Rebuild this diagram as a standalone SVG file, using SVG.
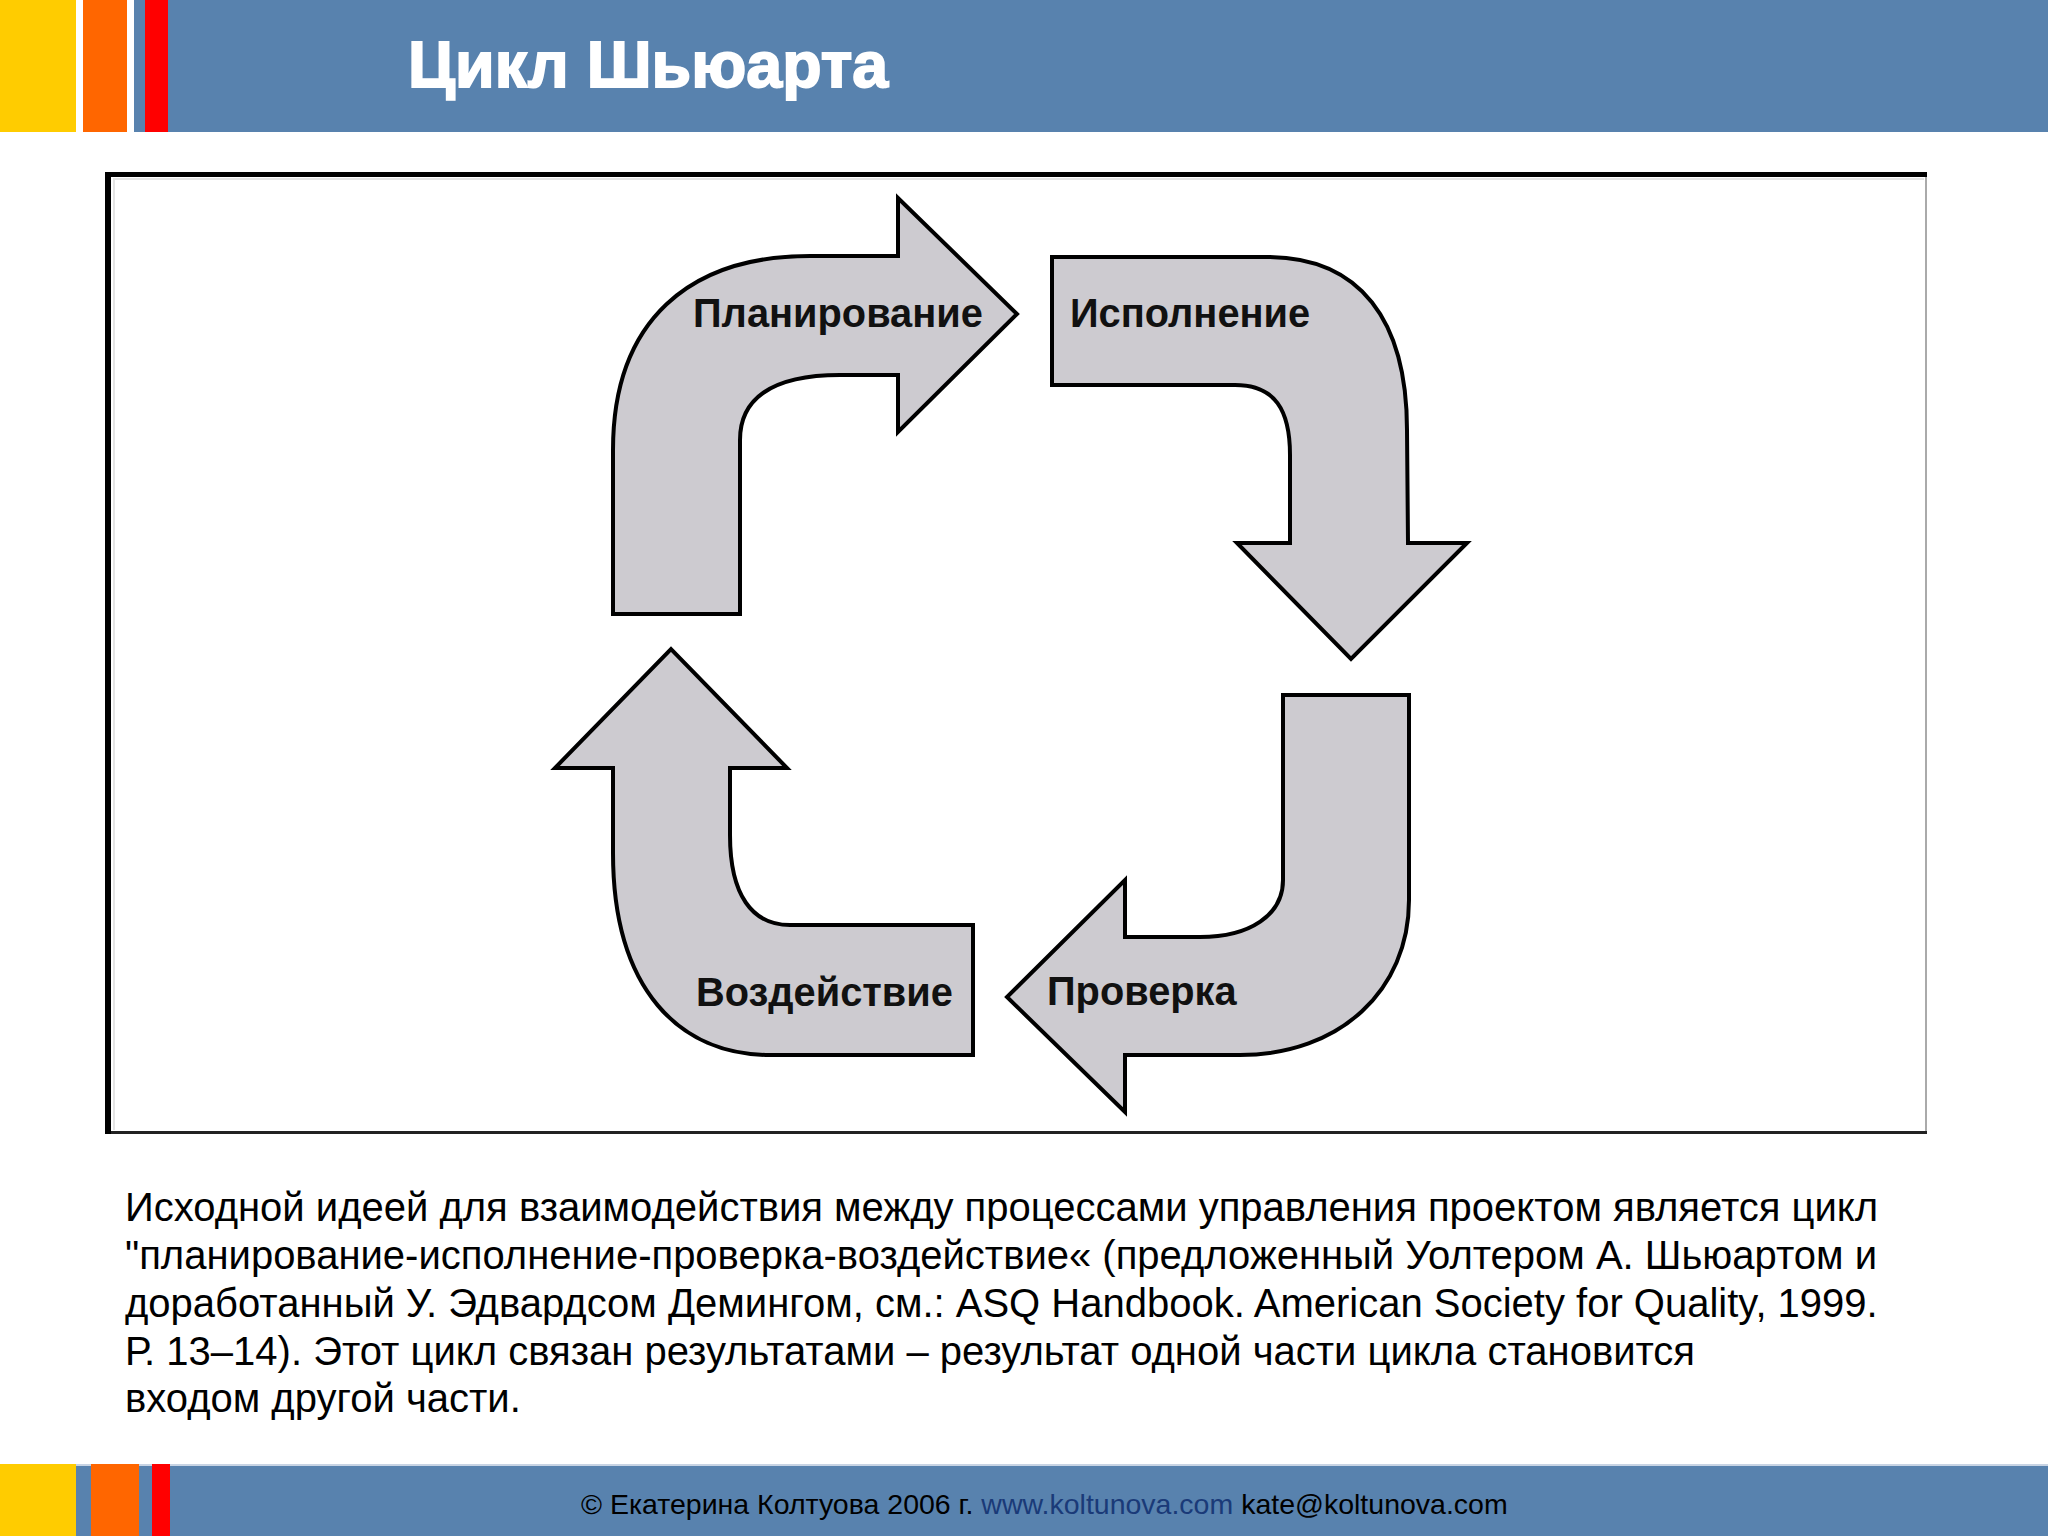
<svg xmlns="http://www.w3.org/2000/svg" width="2048" height="1536" viewBox="0 0 2048 1536">
<defs>
<style>
.bar{fill:#5882AE}
.arrow{fill:#CDCBD0;stroke:#000;stroke-width:4;stroke-linejoin:miter}
.lbl{font-family:"Liberation Sans",Arial,sans-serif;font-weight:bold;font-size:39.8px;fill:#111}
.body{font-family:"Liberation Sans",Arial,sans-serif;font-size:40px;fill:#000}
.foot{font-family:"Liberation Sans",Arial,sans-serif;font-size:28.5px;fill:#000}
</style>
</defs>
<rect width="2048" height="1536" fill="#fff"/>
<g id="header">
<rect class="bar" x="0" y="0" width="2048" height="132"/>
<rect x="0" y="0" width="76" height="132" fill="#FFCC00"/>
<rect x="76" y="0" width="7" height="132" fill="#fff"/>
<rect x="83" y="0" width="44" height="132" fill="#FF6600"/>
<rect x="127" y="0" width="7" height="132" fill="#fff"/>
<rect x="145" y="0" width="23" height="132" fill="#FF0000"/>
<text x="408" y="87" font-family="'Liberation Sans',Arial,sans-serif" font-weight="bold" font-size="64.5" fill="#fff" stroke="#fff" stroke-width="1.8">Цикл Шьюарта</text>
</g>
<g id="frame">
<rect x="105" y="172" width="1822" height="962" fill="#fff"/>
<rect x="113" y="178" width="1811" height="2" fill="#e4e4e4"/>
<rect x="113" y="178" width="2" height="952" fill="#e4e4e4"/>
<rect x="1925" y="172" width="2" height="962" fill="#aaa"/>
<rect x="105" y="1131" width="1822" height="3" fill="#222"/>
<rect x="105" y="172" width="1822" height="5" fill="#000"/>
<rect x="105" y="172" width="6" height="962" fill="#000"/>
</g>
<g id="connectors">
<g id="plan">
<path class="arrow" d="M613,614 L613,450 C613,320 690,256 810,256 L898,256 L898,198 L1017,314 L898,432 L898,375 L840,375 C770,375 740,400 740,440 L740,614 Z"/>
<text class="lbl" x="693" y="327">Планирование</text>
</g>
<g id="do">
<path class="arrow" d="M1052,257 L1267,257 C1360,257 1407,320 1407,430 L1408,543 L1467,543 L1351,659 L1237,543 L1290,543 L1290,455 C1290,410 1275,385 1235,385 L1052,385 Z"/>
<text class="lbl" x="1070" y="327">Исполнение</text>
</g>
<g id="check">
<path class="arrow" d="M1283,695 L1409,695 L1409,900 C1409,990 1340,1055 1240,1055 L1125,1055 L1125,1112 L1007,997 L1125,880 L1125,937 L1200,937 C1250,937 1283,915 1283,880 Z"/>
<text class="lbl" x="1047" y="1005">Проверка</text>
</g>
<g id="act">
<path class="arrow" d="M613,768 L555,768 L671,649 L787,768 L730,768 L730,835 C730,895 752,925 790,925 L973,925 L973,1055 L770,1055 C680,1055 613,990 613,853 Z"/>
<text class="lbl" x="696" y="1006">Воздействие</text>
</g>
</g>
<g id="description">
<text class="body" x="125" y="1221">Исходной идеей для взаимодействия между процессами управления проектом является цикл</text>
<text class="body" x="125" y="1269">"планирование-исполнение-проверка-воздействие« (предложенный Уолтером А. Шьюартом и</text>
<text class="body" x="125" y="1317">доработанный У. Эдвардсом Демингом, см.: ASQ Handbook. American Society for Quality, 1999.</text>
<text class="body" x="125" y="1365">Р. 13–14). Этот цикл связан результатами – результат одной части цикла становится</text>
<text class="body" x="125" y="1412">входом другой части.</text>
</g>
<g id="footer">
<rect class="bar" x="0" y="1464" width="2048" height="72"/>
<rect x="0" y="1464" width="2048" height="2" fill="#c8d4e4"/>
<rect x="0" y="1464" width="76" height="72" fill="#FFCC00"/>
<rect x="91" y="1464" width="48" height="72" fill="#FF6600"/>
<rect x="152" y="1464" width="18" height="72" fill="#FF0000"/>
<text class="foot" x="581" y="1514">© Екатерина Колтуова 2006 г. <tspan fill="#1A3A78">www.koltunova.com</tspan> kate@koltunova.com</text>
</g>
</svg>
